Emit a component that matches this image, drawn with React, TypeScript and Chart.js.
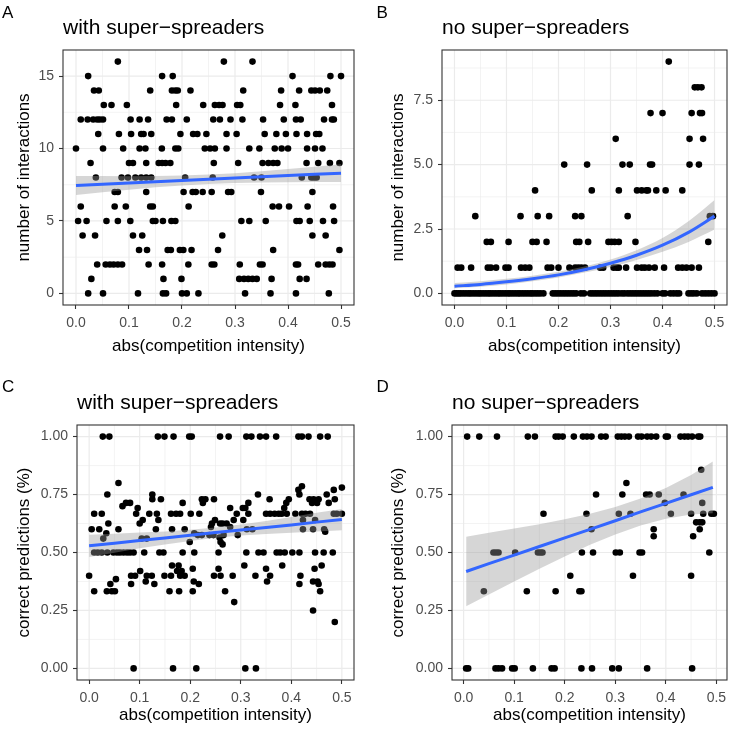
import { useEffect, useRef } from "react";
import { Chart, registerables } from "chart.js";

Chart.register(...registerables);

const FONT = "'Liberation Sans', Arial, Helvetica, sans-serif";

type Row = [number, number[]];

// ---------- shared axis values ----------
const xTicks = [0, 0.1, 0.2, 0.3, 0.4, 0.5];
const xTickLabels = ["0.0", "0.1", "0.2", "0.3", "0.4", "0.5"];
const xMinor = [0.05, 0.15, 0.25, 0.35, 0.45];
const xTitle = "abs(competition intensity)";

// ---------- Panel A ----------
const aYTicks = [0, 5, 10, 15];
const aYTickLabels = ["0", "5", "10", "15"];
const aYMinor = [2.5, 7.5, 12.5];
const aRows: Row[] = [
  [16, [0.079, 0.279, 0.333]],
  [15, [0.023, 0.1625, 0.1825, 0.4085, 0.48, 0.5]],
  [14, [0.034, 0.043, 0.14, 0.181, 0.1875, 0.192, 0.216, 0.3155, 0.387, 0.421, 0.444, 0.451, 0.46, 0.474]],
  [13, [0.0525, 0.067, 0.096, 0.189, 0.24, 0.262, 0.27, 0.2765, 0.304, 0.31, 0.385, 0.414, 0.483]],
  [12, [0.009, 0.022, 0.0325, 0.04, 0.045, 0.051, 0.103, 0.12, 0.136, 0.171, 0.181, 0.209, 0.259, 0.2715, 0.2915, 0.314, 0.353, 0.392, 0.415, 0.424, 0.468, 0.483, 0.4865]],
  [11, [0.042, 0.081, 0.104, 0.123, 0.1275, 0.142, 0.197, 0.221, 0.229, 0.246, 0.284, 0.303, 0.356, 0.378, 0.396, 0.416, 0.436, 0.453, 0.459]],
  [10, [0.0, 0.051, 0.089, 0.12, 0.131, 0.162, 0.1875, 0.193, 0.243, 0.253, 0.262, 0.284, 0.327, 0.346, 0.375, 0.388, 0.4, 0.436, 0.451, 0.465]],
  [9, [0.0275, 0.1, 0.1075, 0.1325, 0.156, 0.1625, 0.169, 0.178, 0.26, 0.306, 0.352, 0.363, 0.372, 0.38, 0.435, 0.457, 0.479, 0.497]],
  [8, [0.0375, 0.086, 0.098, 0.112, 0.123, 0.1325, 0.142, 0.206, 0.258, 0.336, 0.35, 0.426, 0.444, 0.449, 0.454]],
  [7, [0.073, 0.079, 0.1325, 0.203, 0.22, 0.226, 0.239, 0.256, 0.287, 0.293, 0.349, 0.446]],
  [6, [0.009, 0.073, 0.094, 0.14, 0.145, 0.2125, 0.371, 0.383, 0.402, 0.437, 0.485]],
  [5, [0.004, 0.02, 0.0575, 0.079, 0.1025, 0.145, 0.15, 0.164, 0.18, 0.1875, 0.312, 0.327, 0.358, 0.416, 0.422, 0.441, 0.466, 0.487]],
  [4, [0.0125, 0.036, 0.1075, 0.125, 0.276, 0.446, 0.471]],
  [3, [0.119, 0.134, 0.173, 0.179, 0.196, 0.2025, 0.218, 0.268, 0.372, 0.497]],
  [2, [0.04, 0.056, 0.064, 0.071, 0.079, 0.087, 0.137, 0.1625, 0.212, 0.256, 0.261, 0.309, 0.347, 0.352, 0.415, 0.419, 0.457, 0.471, 0.478, 0.484]],
  [1, [0.029, 0.165, 0.199, 0.308, 0.317, 0.325, 0.333, 0.341, 0.369, 0.422, 0.435]],
  [0, [0.023, 0.051, 0.117, 0.164, 0.17, 0.2, 0.209, 0.231, 0.319, 0.367, 0.415, 0.477]],
];
const aFitX = [0, 0.05, 0.1, 0.15, 0.2, 0.25, 0.3, 0.35, 0.4, 0.45, 0.5];
const aFit = [7.45, 7.54, 7.62, 7.71, 7.79, 7.88, 7.96, 8.05, 8.13, 8.22, 8.3];
const aUpper = [8.1, 8.1, 8.09, 8.1, 8.13, 8.2, 8.3, 8.44, 8.59, 8.75, 8.91];
const aLower = [6.8, 6.98, 7.15, 7.32, 7.45, 7.56, 7.62, 7.66, 7.67, 7.69, 7.69];

// ---------- Panel B ----------
const bYTicks = [0, 2.5, 5, 7.5];
const bYTickLabels = ["0.0", "2.5", "5.0", "7.5"];
const bYMinor = [1.25, 3.75, 6.25, 8.75];
const bRows: Row[] = [
  [9, [0.412]],
  [8, [0.462, 0.468, 0.475]],
  [7, [0.377, 0.4, 0.456, 0.472, 0.476]],
  [6, [0.31, 0.452, 0.478]],
  [5, [0.211, 0.255, 0.323, 0.337, 0.376, 0.38, 0.452, 0.47]],
  [4, [0.155, 0.264, 0.316, 0.351, 0.36, 0.369, 0.372, 0.388, 0.406, 0.438]],
  [3, [0.04, 0.127, 0.16, 0.182, 0.232, 0.244, 0.333, 0.491, 0.497]],
  [2, [0.062, 0.07, 0.104, 0.15, 0.158, 0.177, 0.234, 0.24, 0.257, 0.296, 0.302, 0.308, 0.316, 0.348, 0.488]],
  [1, [0.006, 0.013, 0.032, 0.064, 0.07, 0.08, 0.098, 0.104, 0.128, 0.136, 0.144, 0.179, 0.186, 0.2, 0.221, 0.232, 0.238, 0.244, 0.251, 0.28, 0.286, 0.306, 0.312, 0.316, 0.33, 0.351, 0.36, 0.366, 0.374, 0.385, 0.403, 0.43, 0.438, 0.446, 0.456, 0.47]],
  [0, [0.0, 0.004, 0.008, 0.012, 0.017, 0.022, 0.027, 0.031, 0.036, 0.041, 0.046, 0.05, 0.055, 0.06, 0.065, 0.069, 0.074, 0.079, 0.084, 0.088, 0.093, 0.098, 0.103, 0.107, 0.112, 0.117, 0.122, 0.126, 0.131, 0.136, 0.141, 0.146, 0.15, 0.155, 0.16, 0.165, 0.171, 0.189, 0.194, 0.199, 0.204, 0.209, 0.214, 0.219, 0.224, 0.229, 0.234, 0.243, 0.249, 0.261, 0.266, 0.271, 0.276, 0.281, 0.286, 0.291, 0.296, 0.301, 0.306, 0.311, 0.316, 0.322, 0.327, 0.333, 0.338, 0.343, 0.348, 0.353, 0.358, 0.363, 0.368, 0.373, 0.378, 0.384, 0.39, 0.4, 0.405, 0.415, 0.421, 0.427, 0.432, 0.45, 0.455, 0.46, 0.466, 0.476, 0.482, 0.488, 0.494, 0.5]],
];
const bFitX = [0, 0.05, 0.1, 0.15, 0.2, 0.25, 0.3, 0.35, 0.4, 0.45, 0.5];
const bFit = [0.28, 0.35, 0.45, 0.57, 0.72, 0.92, 1.17, 1.48, 1.87, 2.37, 3.0];
const bUpper = [0.4, 0.47, 0.57, 0.69, 0.84, 1.04, 1.32, 1.68, 2.15, 2.8, 3.63];
const bLower = [0.2, 0.26, 0.35, 0.47, 0.62, 0.81, 1.03, 1.3, 1.62, 2.0, 2.48];

// ---------- Panel C ----------
const cdYTicks = [0, 0.25, 0.5, 0.75, 1];
const cdYTickLabels = ["0.00", "0.25", "0.50", "0.75", "1.00"];
const cdYMinor = [0.125, 0.375, 0.625, 0.875];
const cRows: Row[] = [
  [1.0, [0.027, 0.04, 0.136, 0.149, 0.167, 0.198, 0.203, 0.259, 0.276, 0.311, 0.321, 0.338, 0.35, 0.37, 0.414, 0.421, 0.434, 0.457, 0.472]],
  [0.8, [0.058]],
  [0.786, [0.421]],
  [0.78, [0.5]],
  [0.77, [0.484, 0.414]],
  [0.75, [0.036, 0.125, 0.334, 0.416, 0.47]],
  [0.73, [0.125, 0.142, 0.223, 0.23, 0.247, 0.357, 0.395, 0.436, 0.444, 0.454, 0.486]],
  [0.714, [0.073, 0.081, 0.185, 0.225, 0.315, 0.39, 0.441, 0.451, 0.474]],
  [0.7, [0.066]],
  [0.692, [0.096, 0.279, 0.304, 0.309, 0.386]],
  [0.667, [0.01, 0.025, 0.093, 0.119, 0.134, 0.162, 0.172, 0.18, 0.201, 0.218, 0.292, 0.315, 0.35, 0.358, 0.367, 0.375, 0.381, 0.391, 0.408, 0.421, 0.428, 0.437, 0.484, 0.49, 0.5]],
  [0.64, [0.106, 0.137, 0.249, 0.286, 0.305, 0.423, 0.447]],
  [0.625, [0.038, 0.1, 0.243, 0.259, 0.264, 0.272]],
  [0.61, [0.241, 0.279]],
  [0.6, [0.005, 0.02, 0.058, 0.132, 0.164, 0.189, 0.312, 0.323, 0.423, 0.443, 0.465]],
  [0.59, [0.467]],
  [0.583, [0.034, 0.208]],
  [0.575, [0.215, 0.223, 0.238, 0.246, 0.266, 0.294]],
  [0.565, [0.258]],
  [0.56, [0.028, 0.104, 0.114]],
  [0.545, [0.199, 0.26]],
  [0.535, [0.264]],
  [0.5, [0.01, 0.017, 0.025, 0.036, 0.048, 0.055, 0.061, 0.068, 0.075, 0.081, 0.088, 0.109, 0.139, 0.147, 0.185, 0.208, 0.256, 0.311, 0.335, 0.345, 0.371, 0.378, 0.387, 0.402, 0.416, 0.447, 0.464, 0.482]],
  [0.444, [0.164, 0.177, 0.307, 0.382, 0.46]],
  [0.43, [0.205, 0.256, 0.35, 0.446]],
  [0.42, [0.101, 0.174, 0.183]],
  [0.4, [0.0, 0.083, 0.091, 0.114, 0.124, 0.149, 0.162, 0.18, 0.189, 0.247, 0.26, 0.284, 0.329, 0.358, 0.418]],
  [0.385, [0.053]],
  [0.375, [0.112, 0.207, 0.352, 0.443, 0.452]],
  [0.364, [0.042, 0.083, 0.129, 0.217, 0.416, 0.454]],
  [0.333, [0.01, 0.035, 0.045, 0.051, 0.159, 0.178, 0.205, 0.269, 0.457]],
  [0.286, [0.287]],
  [0.25, [0.443]],
  [0.2, [0.486]],
  [0.0, [0.088, 0.166, 0.212, 0.309, 0.33]],
];
const cFitX = [0, 0.05, 0.1, 0.15, 0.2, 0.25, 0.3, 0.35, 0.4, 0.45, 0.5];
const cFit = [0.529, 0.54, 0.552, 0.563, 0.574, 0.586, 0.597, 0.608, 0.619, 0.631, 0.642];
const cUpper = [0.577, 0.581, 0.586, 0.591, 0.598, 0.608, 0.621, 0.636, 0.653, 0.671, 0.688];
const cLower = [0.481, 0.499, 0.518, 0.535, 0.55, 0.564, 0.573, 0.58, 0.585, 0.591, 0.596];

// ---------- Panel D ----------
const dRows: Row[] = [
  [1.0, [0.007, 0.031, 0.066, 0.127, 0.141, 0.182, 0.188, 0.196, 0.218, 0.236, 0.244, 0.253, 0.272, 0.281, 0.305, 0.312, 0.319, 0.327, 0.345, 0.352, 0.363, 0.371, 0.381, 0.4, 0.404, 0.429, 0.437, 0.444, 0.452, 0.464, 0.468]],
  [0.857, [0.47]],
  [0.8, [0.322]],
  [0.75, [0.262, 0.314, 0.361, 0.368, 0.386, 0.435]],
  [0.714, [0.398, 0.472]],
  [0.667, [0.158, 0.243, 0.307, 0.33, 0.41, 0.45, 0.474, 0.49, 0.495]],
  [0.63, [0.46, 0.467, 0.472]],
  [0.6, [0.253, 0.376, 0.467]],
  [0.57, [0.376, 0.454]],
  [0.5, [0.059, 0.064, 0.069, 0.102, 0.147, 0.152, 0.156, 0.234, 0.256, 0.301, 0.309, 0.348, 0.353, 0.486]],
  [0.4, [0.211, 0.335, 0.45]],
  [0.333, [0.04, 0.125, 0.182, 0.229, 0.233]],
  [0.0, [0.005, 0.009, 0.063, 0.069, 0.076, 0.096, 0.101, 0.137, 0.174, 0.18, 0.233, 0.254, 0.294, 0.307, 0.363, 0.452]],
];
const dFitX = [0.005, 0.05, 0.1, 0.15, 0.2, 0.25, 0.3, 0.35, 0.4, 0.45, 0.493];
const dFit = [0.418, 0.452, 0.489, 0.526, 0.563, 0.6, 0.637, 0.675, 0.712, 0.749, 0.781];
const dUpper = [0.568, 0.585, 0.603, 0.622, 0.643, 0.667, 0.696, 0.733, 0.778, 0.834, 0.893];
const dLower = [0.268, 0.319, 0.375, 0.43, 0.483, 0.533, 0.578, 0.617, 0.646, 0.664, 0.669];

// ---------- panel configuration ----------
type Panel = {
  pos: [number, number];
  area: { l: number; t: number; r: number; b: number };
  xRange: [number, number];
  yRange: [number, number];
  yTicks: number[];
  yTickLabels: string[];
  yMinor: number[];
  rows: Row[];
  fitX: number[];
  fit: number[];
  upper: number[];
  lower: number[];
  smooth: boolean;
  letter: string;
  letterPos: [number, number];
  title: string;
  titleBase: number;
  yTitle: string;
  yTitleBase: number;
  xTitleBase: number;
};

const W = 366;
const H = 365;

const panels: Panel[] = [
  {
    pos: [0, 0],
    area: { l: 63, t: 50, r: 354, b: 305 },
    xRange: [-0.0245, 0.5245],
    yRange: [-0.8, 16.8],
    yTicks: aYTicks, yTickLabels: aYTickLabels, yMinor: aYMinor,
    rows: aRows, fitX: aFitX, fit: aFit, upper: aUpper, lower: aLower, smooth: false,
    letter: "A", letterPos: [2, 18],
    title: "with super\u2212spreaders", titleBase: 34,
    yTitle: "number of interactions", yTitleBase: 29,
    xTitleBase: 351,
  },
  {
    pos: [366, 0],
    area: { l: 76, t: 50, r: 361, b: 305 },
    xRange: [-0.024, 0.524],
    yRange: [-0.45, 9.45],
    yTicks: bYTicks, yTickLabels: bYTickLabels, yMinor: bYMinor,
    rows: bRows, fitX: bFitX, fit: bFit, upper: bUpper, lower: bLower, smooth: true,
    letter: "B", letterPos: [10.5, 18],
    title: "no super\u2212spreaders", titleBase: 34,
    yTitle: "number of interactions", yTitleBase: 36.5,
    xTitleBase: 351,
  },
  {
    pos: [0, 365],
    area: { l: 77, t: 60, r: 354, b: 315 },
    xRange: [-0.024, 0.524],
    yRange: [-0.05, 1.05],
    yTicks: cdYTicks, yTickLabels: cdYTickLabels, yMinor: cdYMinor,
    rows: cRows, fitX: cFitX, fit: cFit, upper: cUpper, lower: cLower, smooth: false,
    letter: "C", letterPos: [2, 27],
    title: "with super\u2212spreaders", titleBase: 43.5,
    yTitle: "correct predictions (%)", yTitleBase: 29,
    xTitleBase: 355,
  },
  {
    pos: [366, 365],
    area: { l: 86, t: 60, r: 361, b: 315 },
    xRange: [-0.023, 0.521],
    yRange: [-0.05, 1.05],
    yTicks: cdYTicks, yTickLabels: cdYTickLabels, yMinor: cdYMinor,
    rows: dRows, fitX: dFitX, fit: dFit, upper: dUpper, lower: dLower, smooth: false,
    letter: "D", letterPos: [10.5, 27],
    title: "no super\u2212spreaders", titleBase: 43.5,
    yTitle: "correct predictions (%)", yTitleBase: 37,
    xTitleBase: 355,
  },
];

function toPoints(rows: Row[]) {
  return rows.flatMap(([y, xs]) => xs.map((x) => ({ x, y })));
}
function toCurve(xs: number[], ys: number[]) {
  return xs.map((x, i) => ({ x, y: ys[i] }));
}

function makePlugin(p: Panel) {
  return {
    id: "ggtheme",
    beforeDatasetsDraw(chart: any) {
      const { ctx, chartArea: a, scales } = chart;
      const xs = scales.x;
      const ys = scales.y;
      ctx.save();
      ctx.beginPath();
      ctx.rect(a.left, a.top, a.right - a.left, a.bottom - a.top);
      ctx.clip();
      ctx.strokeStyle = "#EBEBEB";
      const vline = (v: number) => {
        const px = xs.getPixelForValue(v);
        ctx.beginPath();
        ctx.moveTo(px, a.top);
        ctx.lineTo(px, a.bottom);
        ctx.stroke();
      };
      const hline = (v: number) => {
        const py = ys.getPixelForValue(v);
        ctx.beginPath();
        ctx.moveTo(a.left, py);
        ctx.lineTo(a.right, py);
        ctx.stroke();
      };
      ctx.lineWidth = 0.6;
      xMinor.forEach(vline);
      p.yMinor.forEach(hline);
      ctx.lineWidth = 1.2;
      xTicks.forEach(vline);
      p.yTicks.forEach(hline);
      ctx.restore();
    },
    afterDatasetsDraw(chart: any) {
      const { ctx, chartArea: a } = chart;
      ctx.save();
      ctx.strokeStyle = "#333333";
      ctx.lineWidth = 1.1;
      ctx.strokeRect(a.left, a.top, a.right - a.left, a.bottom - a.top);
      ctx.restore();
    },
    afterDraw(chart: any) {
      const { ctx, chartArea: a } = chart;
      ctx.save();
      ctx.fillStyle = "#000000";
      ctx.textBaseline = "alphabetic";
      ctx.textAlign = "left";
      ctx.font = `17px ${FONT}`;
      ctx.fillText(p.letter, p.letterPos[0], p.letterPos[1]);
      ctx.font = `21px ${FONT}`;
      ctx.fillText(p.title, a.left, p.titleBase);
      ctx.font = `17px ${FONT}`;
      ctx.textAlign = "center";
      ctx.fillText(xTitle, (a.left + a.right) / 2, p.xTitleBase);
      ctx.translate(p.yTitleBase, (a.top + a.bottom) / 2);
      ctx.rotate(-Math.PI / 2);
      ctx.fillText(p.yTitle, 0, 0);
      ctx.restore();
    },
  };
}

function PanelChart({ p }: { p: Panel }) {
  const ref = useRef<HTMLCanvasElement | null>(null);
  useEffect(() => {
    if (!ref.current) return;
    const tickFont = { family: FONT, size: 14 };
    const chart = new Chart(ref.current, {
      type: "scatter",
      data: {
        datasets: [
          {
            type: "line",
            data: toCurve(p.fitX, p.fit),
            borderColor: "#3366FF",
            borderWidth: 3,
            pointRadius: 0,
            fill: false,
            tension: 0,
            cubicInterpolationMode: p.smooth ? "monotone" : "default",
            order: 0,
          } as any,
          {
            type: "line",
            data: toCurve(p.fitX, p.lower),
            borderWidth: 0,
            borderColor: "rgba(0,0,0,0)",
            pointRadius: 0,
            fill: false,
            cubicInterpolationMode: p.smooth ? "monotone" : "default",
            order: 1,
          } as any,
          {
            type: "line",
            data: toCurve(p.fitX, p.upper),
            borderWidth: 0,
            borderColor: "rgba(0,0,0,0)",
            backgroundColor: "rgba(153,153,153,0.4)",
            pointRadius: 0,
            fill: { target: 1 },
            cubicInterpolationMode: p.smooth ? "monotone" : "default",
            order: 1,
          } as any,
          {
            type: "scatter",
            data: toPoints(p.rows),
            backgroundColor: "#000000",
            borderWidth: 0,
            pointRadius: 3.3,
            pointHoverRadius: 3.3,
            order: 2,
          } as any,
        ],
      },
      options: {
        animation: false,
        responsive: false,
        events: [],
        layout: {
          padding: { left: 0, top: p.area.t, right: W - p.area.r, bottom: 0 },
        },
        plugins: {
          legend: { display: false },
          tooltip: { enabled: false },
        },
        scales: {
          x: {
            type: "linear",
            position: "bottom",
            min: p.xRange[0],
            max: p.xRange[1],
            afterBuildTicks: (s: any) => {
              s.ticks = xTicks.map((v) => ({ value: v }));
            },
            afterFit: (s: any) => {
              s.height = H - p.area.b;
              s.paddingLeft = 0;
              s.paddingRight = 0;
            },
            ticks: {
              autoSkip: false,
              maxRotation: 0,
              minRotation: 0,
              padding: 6,
              color: "#4D4D4D",
              font: tickFont,
              callback: (_v: any, i: number) => xTickLabels[i],
            },
            grid: {
              display: true,
              drawOnChartArea: false,
              drawTicks: true,
              tickLength: 4,
              tickColor: "#333333",
              tickWidth: 1.1,
              color: "rgba(0,0,0,0)",
            },
            border: { display: false },
          } as any,
          y: {
            type: "linear",
            position: "left",
            min: p.yRange[0],
            max: p.yRange[1],
            afterBuildTicks: (s: any) => {
              s.ticks = p.yTicks.map((v) => ({ value: v }));
            },
            afterFit: (s: any) => {
              s.width = p.area.l;
              s.paddingTop = 0;
              s.paddingBottom = 0;
            },
            ticks: {
              autoSkip: false,
              padding: 5,
              color: "#4D4D4D",
              font: tickFont,
              callback: (_v: any, i: number) => p.yTickLabels[i],
            },
            grid: {
              display: true,
              drawOnChartArea: false,
              drawTicks: true,
              tickLength: 4,
              tickColor: "#333333",
              tickWidth: 1.1,
              color: "rgba(0,0,0,0)",
            },
            border: { display: false },
          } as any,
        },
      },
      plugins: [makePlugin(p)],
    });
    return () => chart.destroy();
  }, [p]);
  return (
    <canvas
      ref={ref}
      width={W}
      height={H}
      style={{ position: "absolute", left: p.pos[0], top: p.pos[1], width: W, height: H }}
    />
  );
}

export default function App() {
  return (
    <div style={{ position: "absolute", left: 0, top: 0, width: 732, height: 730, background: "#ffffff" }}>
      {panels.map((p, i) => (
        <PanelChart key={i} p={p} />
      ))}
    </div>
  );
}
